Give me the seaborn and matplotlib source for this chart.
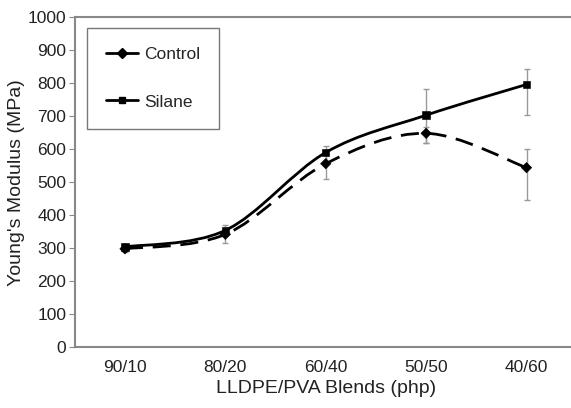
import numpy as np
import pandas as pd
import seaborn as sns
import matplotlib.pyplot as plt
from matplotlib.path import Path
from matplotlib.patches import PathPatch
from matplotlib.lines import Line2D

# data
blends = ['90/10', '80/20', '60/40', '50/50', '40/60']
control = [298, 342, 556, 648, 544]
silane = [304, 354, 590, 703, 796]
control_lo = [10, 25, 45, 28, 98]
control_hi = [10, 15, 25, 20, 55]
silane_lo = [8, 15, 30, 85, 92]
silane_hi = [8, 15, 20, 80, 48]

df = pd.DataFrame({'blend': blends * 2,
                   'modulus': control + silane,
                   'group': ['Control'] * 5 + ['Silane'] * 5})

sns.set_style('white')
plt.rcParams['font.family'] = ['Liberation Sans', 'DejaVu Sans']

fig = plt.figure(figsize=(5.71, 4.08), dpi=100)
# right edge of the plot area falls just outside the picture, as in the original
ax = fig.add_axes([0.131, 0.149, 0.879, 0.809])


def smooth_path(ys):
    # Excel-like smoothed line through the points (Catmull-Rom as Bezier)
    pts = np.column_stack([np.arange(len(ys)), ys]).astype(float)
    verts = [pts[0]]
    codes = [Path.MOVETO]
    for i in range(len(pts) - 1):
        p0 = pts[i - 1] if i > 0 else pts[i]
        p1 = pts[i]
        p2 = pts[i + 1]
        p3 = pts[i + 2] if i + 2 < len(pts) else pts[i + 1]
        verts += [p1 + (p2 - p0) / 6, p2 - (p3 - p1) / 6, p2]
        codes += [Path.CURVE4] * 3
    return Path(verts, codes)


x = np.arange(len(blends))
ax.errorbar(x, silane, yerr=[silane_lo, silane_hi], fmt='none', ecolor='#999999',
            elinewidth=1, capsize=2.5, capthick=1, zorder=1)
ax.errorbar(x, control, yerr=[control_lo, control_hi], fmt='none', ecolor='#999999',
            elinewidth=1, capsize=2.5, capthick=1, zorder=1)

ax.add_patch(PathPatch(smooth_path(silane), fill=False, edgecolor='black', lw=2, zorder=2))
ax.add_patch(PathPatch(smooth_path(control), fill=False, edgecolor='black', lw=2,
                       linestyle=(0, (6.5, 3.5)), zorder=2))

df['x'] = df['blend'].map({b: i for i, b in enumerate(blends)})
sns.scatterplot(data=df, x='x', y='modulus', style='group', markers={'Control': 'D', 'Silane': 's'},
                color='black', s=28, edgecolor='black', legend=False, ax=ax, zorder=3)

ax.set_xlim(-0.5, 4.5)
ax.set_ylim(0, 1000)
ax.set_yticks(range(0, 1001, 100))
ax.set_xticks(np.arange(-0.5, 4.0, 1))
ax.set_xticklabels([])
ax.set_xticks(x, minor=True)
ax.set_xticklabels(blends, minor=True)
ax.tick_params(axis='x', which='minor', length=0, pad=9, labelsize=12.5, colors='#222222')
ax.tick_params(axis='x', which='major', length=4, direction='inout', color='#888888')
ax.tick_params(axis='y', length=4, direction='out', color='#888888', labelsize=12.5,
               labelcolor='#222222', pad=2, left=True)

for s in ['left', 'bottom', 'top']:
    ax.spines[s].set_color('#888888')
    ax.spines[s].set_linewidth(1.5)
ax.spines['right'].set_visible(False)

ax.set_xlabel('LLDPE/PVA Blends (php)', fontsize=14, color='#222222', labelpad=4)
ax.set_ylabel("Young's Modulus (MPa)", fontsize=14, color='#222222', labelpad=2)

handles = [Line2D([], [], color='black', lw=2, marker='D', markersize=5),
           Line2D([], [], color='black', lw=2, marker='s', markersize=5)]
leg = ax.legend(handles, ['Control', 'Silane'], loc='upper left', bbox_to_anchor=(0.025, 0.967),
                fontsize=12.5, frameon=True, fancybox=False, edgecolor='#555555',
                borderpad=1.1, labelspacing=1.85, handlelength=1.8, handletextpad=0.35,
                borderaxespad=0)
leg.get_frame().set_linewidth(1)

plt.savefig('out.png', dpi=100)
